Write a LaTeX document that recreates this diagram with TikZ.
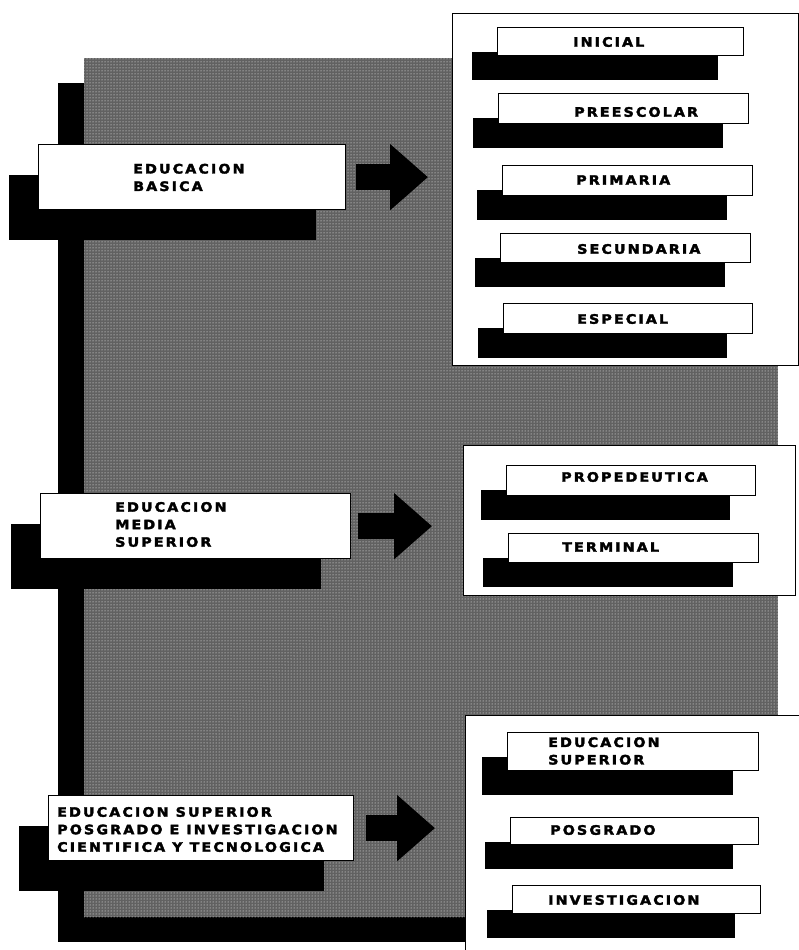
\documentclass[tikz,border=0pt]{standalone}
\usepackage{fontspec}
\newfontfamily\lblfont[LetterSpace=16, FakeStretch=1.1, FakeBold=2.5]{DejaVu Sans Bold}
\usetikzlibrary{shadows,arrows.meta,patterns}
\tikzset{
  panel/.style={draw, fill=white, line width=1.3pt, anchor=north west, inner sep=0pt},
  wbox/.style={draw, fill=white, line width=1.3pt, anchor=north west, inner sep=0pt},
  bigsh/.style={general shadow={fill=black, shadow xshift=-30pt, shadow yshift=-30pt}},
  smsh/.style={general shadow={fill=black, shadow xshift=-26pt, shadow yshift=-24pt}},
  lbl/.style={font={\lblfont\fontsize{13}{17.5}\selectfont}, align=left, anchor=west, inner sep=0pt},
  blockarrow/.style={line width=26pt, -{Triangle[length=38pt,width=64pt]}},
  screen/.style={fill=black!62, general shadow={fill=black, shadow xshift=-26pt, shadow yshift=-25pt}, anchor=north west, inner sep=0pt}
}
\begin{document}
\begin{tikzpicture}[x=1pt,y=-1pt]
\useasboundingbox (0,0) rectangle (799,950);
\clip (0,0) rectangle (799,950);
\fill[white] (0,0) rectangle (799,950);
% textured background panel
\node[screen, minimum width=694pt, minimum height=859pt] (bg) at (84,58) {};
\fill[pattern=dots, pattern color=white] (bg.north west) rectangle (bg.south east);
% right panels
\node[panel, minimum width=346pt, minimum height=352pt] (P1) at (452,13) {};
\node[panel, minimum width=332pt, minimum height=150pt] (P2) at (463,445) {};
\node[panel, minimum width=340pt, minimum height=245pt] (P3) at (465,715) {};
% left boxes
\node[wbox, bigsh, minimum width=307pt, minimum height=65pt] (B1) at (38,144) {};
\node[wbox, bigsh, minimum width=310pt, minimum height=65pt] (B2) at (40,493) {};
\node[wbox, bigsh, minimum width=305pt, minimum height=65pt] (B3) at (48,795) {};
\node[lbl] (tB1) at (133,177.5) {EDUCACION\\BASICA};
\node[lbl] (tB2) at (115,524.5) {EDUCACION\\MEDIA\\SUPERIOR};
\node[lbl] (tB3) at (57,829.5) {EDUCACION SUPERIOR\\POSGRADO E INVESTIGACION\\CIENTIFICA Y TECNOLOGICA};
% small boxes, top panel
\node[wbox, smsh, minimum width=246pt, minimum height=28pt] (I1) at (497,27) {};
\node[wbox, smsh, minimum width=250pt, minimum height=30pt] (I2) at (498,93) {};
\node[wbox, smsh, minimum width=250pt, minimum height=30pt] (I3) at (502,165) {};
\node[wbox, smsh, minimum width=250pt, minimum height=29pt] (I4) at (500,233) {};
\node[wbox, smsh, minimum width=249pt, minimum height=30pt] (I5) at (503,303) {};
\node[lbl] (tI1) at (573,42) {INICIAL};
\node[lbl] (tI2) at (574,112) {PREESCOLAR};
\node[lbl] (tI3) at (576,180) {PRIMARIA};
\node[lbl] (tI4) at (577,249) {SECUNDARIA};
\node[lbl] (tI5) at (577,319) {ESPECIAL};
% middle panel
\node[wbox, smsh, minimum width=249pt, minimum height=30pt] (M1) at (506,465) {};
\node[wbox, smsh, minimum width=250pt, minimum height=29pt] (M2) at (508,533) {};
\node[lbl] (tM1) at (561,477) {PROPEDEUTICA};
\node[lbl] (tM2) at (562,547) {TERMINAL};
% bottom panel
\node[wbox, smsh, minimum width=251pt, minimum height=38pt] (S1) at (507,732) {};
\node[wbox, smsh, minimum width=248pt, minimum height=27pt] (S2) at (510,817) {};
\node[wbox, smsh, minimum width=248pt, minimum height=28pt] (S3) at (512,885) {};
\node[lbl] (tS1) at (548,751) {EDUCACION\\SUPERIOR};
\node[lbl] (tS2) at (550,830) {POSGRADO};
\node[lbl] (tS3) at (548,900) {INVESTIGACION};
% arrows
\draw[blockarrow, shorten <=10pt, shorten >=24pt] (B1.east) -- (B1.east -| P1.west);
\draw[blockarrow, shorten <=7pt, shorten >=31pt] (B2.east) -- (B2.east -| P2.west);
\draw[blockarrow, shorten <=12pt, shorten >=30pt] (B3.east) -- (B3.east -| P3.west);
\end{tikzpicture}
\end{document}
